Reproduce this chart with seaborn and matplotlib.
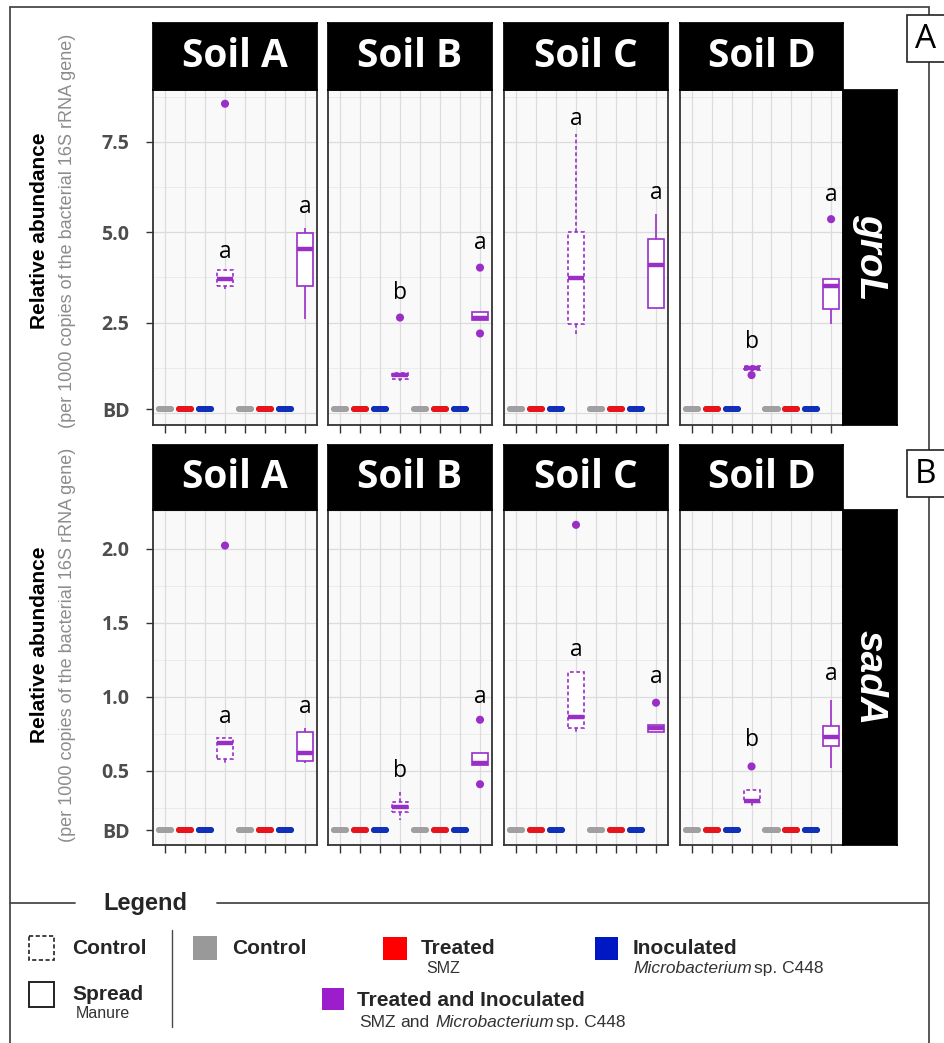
import numpy as np
import pandas as pd
import matplotlib
matplotlib.use("Agg")
import matplotlib.pyplot as plt
import seaborn as sns
from matplotlib.patches import Rectangle

sns.set_theme(style="white")
plt.rcParams['font.family'] = ['Open Sans', 'DejaVu Sans']

W, H = 944, 1043

# ---------------- data ----------------
soils = ["Soil A", "Soil B", "Soil C", "Soil D"]
genes = ["groL", "sadA"]
treatments = ["Control", "Treated", "Inoculated", "Treated and Inoculated"]
manures = ["Control", "Spread"]
BD = 0.1  # below detection plotted value

# replicate values (Treated and Inoculated), one list per soil
groL_control_vals = [[3.42, 3.52, 3.70, 3.95, 3.95],
                     [0.90, 0.93, 1.06, 1.10, 1.12],
                     [2.14, 2.45, 3.74, 5.00, 7.70],
                     [1.16, 1.20, 1.25, 1.30, 1.32]]
groL_control_out = [[8.55], [2.64], [], [1.05]]
groL_spread_vals = [[2.60, 3.52, 4.53, 4.97, 5.11],
                    [2.58, 2.58, 2.64, 2.78, 2.78],
                    [2.91, 2.91, 4.09, 4.81, 5.49],
                    [2.47, 2.88, 3.52, 3.70, 3.70]]
groL_spread_out = [[], [4.02, 2.20], [], [5.36]]

sadA_control_vals = [[0.54, 0.577, 0.685, 0.725, 0.725],
                     [0.17, 0.22, 0.255, 0.29, 0.36],
                     [0.76, 0.79, 0.865, 1.17, 1.17],
                     [0.255, 0.29, 0.30, 0.37, 0.37]]
sadA_control_out = [[2.02], [], [2.16], [0.53]]
sadA_spread_vals = [[0.555, 0.57, 0.62, 0.765, 0.79],
                    [0.54, 0.54, 0.555, 0.62, 0.62],
                    [0.76, 0.76, 0.79, 0.81, 0.81],
                    [0.52, 0.665, 0.73, 0.80, 0.98]]
sadA_spread_out = [[], [0.845, 0.41], [0.96], []]

# significance letters (control, spread) per soil, and their heights
groL_letters = [["a", "a"], ["b", "a"], ["a", "a"], ["b", "a"]]
groL_letter_y = [[4.29, 5.52], [3.16, 4.53], [7.97, 5.91], [1.81, 5.85]]
sadA_letters = [["a", "a"], ["b", "a"], ["a", "a"], ["b", "a"]]
sadA_letter_y = [[0.825, 0.89], [0.46, 0.96], [1.275, 1.09], [0.67, 1.11]]

box_vals = {"groL": [groL_control_vals, groL_spread_vals],
            "sadA": [sadA_control_vals, sadA_spread_vals]}
box_out = {"groL": [groL_control_out, groL_spread_out],
           "sadA": [sadA_control_out, sadA_spread_out]}
letters = {"groL": groL_letters, "sadA": sadA_letters}
letter_y = {"groL": groL_letter_y, "sadA": sadA_letter_y}

# ---------------- tidy tables ----------------
rows, orows = [], []
for gene in genes:
    for si, soil in enumerate(soils):
        for mi, man in enumerate(manures):
            for ti, tr in enumerate(treatments):
                pos = mi * 4 + ti + 1
                if tr == "Treated and Inoculated":
                    vals = box_vals[gene][mi][si]
                    for o in box_out[gene][mi][si]:
                        orows.append(dict(gene=gene, soil=soil, manure=man, treatment=tr, pos=pos, value=o))
                else:
                    vals = [BD, BD, BD]
                for v in vals:
                    rows.append(dict(gene=gene, soil=soil, manure=man, treatment=tr, pos=pos, value=v))
df = pd.DataFrame(rows)
dfo = pd.DataFrame(orows)

palette = {"Control": "#A0A0A0", "Treated": "#E8141C",
           "Inoculated": "#1030B8", "Treated and Inoculated": "#9A2FC8"}
purple = palette["Treated and Inoculated"]

# ---------------- figure ----------------
fig = plt.figure(figsize=(W / 100, H / 100), dpi=100)
fig.patch.set_facecolor("white")


def rect(x0, y0, x1, y1):
    return [x0 / W, 1 - y1 / H, (x1 - x0) / W, (y1 - y0) / H]


ov = fig.add_axes([0, 0, 1, 1])
ov.set_xlim(0, W)
ov.set_ylim(H, 0)
ov.axis("off")
ov.patch.set_alpha(0)

panel_x = [(153, 317), (328, 492), (504, 668), (680, 843)]
rows_y = {"groL": dict(strip=(23, 90), panel=(90, 425), ylim=(-0.33, 8.93),
                       ticks=[BD, 2.5, 5.0, 7.5], labels=["BD", "2.5", "5.0", "7.5"],
                       grid=np.arange(0, 9.0, 1.25), major=2.5, lab_c=231),
          "sadA": dict(strip=(445, 510), panel=(510, 845), ylim=(0.0, 2.26),
                       ticks=[BD, 0.5, 1.0, 1.5, 2.0], labels=["BD", "0.5", "1.0", "1.5", "2.0"],
                       grid=np.arange(0, 2.3, 0.25), major=0.5, lab_c=645)}

for gene in genes:
    R = rows_y[gene]
    py0, py1 = R["panel"]
    sy0, sy1 = R["strip"]
    for si, soil in enumerate(soils):
        x0, x1 = panel_x[si]
        ax = fig.add_axes(rect(x0, py0, x1, py1))
        ax.set_facecolor("#F9F9F9")
        sub = df[(df.gene == gene) & (df.soil == soil)]
        # below-detection groups
        bd = sub[sub.treatment != "Treated and Inoculated"]
        sns.boxplot(data=bd, x="pos", y="value", hue="treatment", palette=palette,
                    native_scale=True, dodge=False, fill=False, width=0.62,
                    linewidth=4.0, legend=False, showcaps=False, whis=(0, 100),
                    boxprops=dict(solid_capstyle="round"),
                    medianprops=dict(solid_capstyle="round"), ax=ax)
        for mi, man in enumerate(manures):
            s2 = sub[(sub.treatment == "Treated and Inoculated") & (sub.manure == man)]
            ls = (0, (2.2, 1.6)) if man == "Control" else "-"
            sns.boxplot(data=s2, x="pos", y="value", native_scale=True, color="white",
                        linecolor=purple, fill=True, width=0.8, linewidth=1.2,
                        whis=(0, 100), showfliers=False, showcaps=False,
                        boxprops=dict(linestyle=ls), whiskerprops=dict(linestyle=ls),
                        medianprops=dict(linewidth=3.2, color=purple), ax=ax)
            o2 = dfo[(dfo.gene == gene) & (dfo.soil == soil) & (dfo.manure == man)]
            if len(o2):
                sns.scatterplot(data=o2, x="pos", y="value", color=purple, s=34,
                                edgecolor="none", zorder=5, legend=False, ax=ax)
            pos = s2["pos"].iloc[0]
            ax.text(pos, letter_y[gene][si][mi], letters[gene][si][mi], ha="center",
                    va="baseline", fontsize=16.5, color="black", zorder=6)
        ax.set_xlim(0.4, 8.6)
        ax.set_ylim(*R["ylim"])
        for g in R["grid"]:
            major = abs((g / R["major"]) - round(g / R["major"])) < 1e-6
            ax.axhline(g, color="#DCDCDC" if major else "#EAEAEA",
                       lw=0.9 if major else 0.6, zorder=0)
        ax.set_xticks(range(1, 9))
        ax.set_xticklabels([])
        ax.grid(axis="x", color="#DCDCDC", lw=0.9, zorder=0)
        ax.set_axisbelow(True)
        ax.tick_params(axis="x", length=6, width=1.0, color="#333333", bottom=True)
        if si == 0:
            ax.set_yticks(R["ticks"])
            ax.set_yticklabels(R["labels"], fontsize=14, fontweight="bold", color="#4D4D4D")
            ax.tick_params(axis="y", length=5, width=1.0, color="#333333", left=True, pad=12)
        else:
            ax.set_yticks([])
        ax.set_xlabel("")
        ax.set_ylabel("")
        for sp in ax.spines.values():
            sp.set_color("#333333")
            sp.set_linewidth(1.3)
        # top strip
        st = fig.add_axes(rect(x0, sy0, x1, sy1))
        st.set_facecolor("black")
        st.set_xticks([]); st.set_yticks([])
        for sp in st.spines.values():
            sp.set_color("black")
        st.text(0.5, 0.5, soil, color="white", fontsize=28, fontweight="bold",
                ha="center", va="center", transform=st.transAxes)
    # right strip
    rs = fig.add_axes(rect(843, py0, 897, py1))
    rs.set_facecolor("black")
    rs.set_xticks([]); rs.set_yticks([])
    for sp in rs.spines.values():
        sp.set_color("black")
    rs.text(0.5, 0.5, gene, color="white", fontsize=28, fontweight="bold",
            style="italic", rotation=-90, ha="center", va="center",
            transform=rs.transAxes, family=["Liberation Sans", "DejaVu Sans"])
    # y labels
    fig.text(40 / W, 1 - R["lab_c"] / H, "Relative abundance", rotation=90,
             ha="center", va="center", fontsize=15, fontweight="bold",
             family=["Liberation Sans"], color="black")
    fig.text(68 / W, 1 - R["lab_c"] / H,
             "(per 1000 copies of the bacterial 16S rRNA gene)", rotation=90,
             ha="center", va="center", fontsize=13, family=["Liberation Sans"],
             color="#8C8C8C")

# ---------------- frame and panel tags ----------------
fc = "#4A4A4A"
ov.plot([10, 929], [7, 7], color=fc, lw=1.3)
ov.plot([10, 10], [7, H], color=fc, lw=1.3)
ov.plot([929, 929], [7, H], color=fc, lw=1.3)
for tag, (ty0, ty1) in [("A", (15, 62)), ("B", (450, 497))]:
    ov.add_patch(Rectangle((907, ty0), 60, ty1 - ty0, facecolor="white",
                           edgecolor="#222222", lw=1.2, zorder=3))
    ov.text(926, (ty0 + ty1) / 2 + 1, tag, ha="center", va="center", fontsize=24,
            color="black", zorder=4)

# ---------------- legend ----------------
ov.plot([10, 75], [903, 903], color=fc, lw=1.3)
ov.plot([217, 929], [903, 903], color=fc, lw=1.3)
LF = ["Liberation Sans"]
ov.text(103, 910, "Legend", fontsize=17, fontweight="bold", family=LF, va="baseline")
ov.add_patch(Rectangle((29, 936), 25, 24, fill=False, ls=(0, (2.5, 1.5)), lw=1.2, ec="#222222"))
ov.add_patch(Rectangle((29, 982), 25, 25, fill=False, lw=1.4, ec="#222222"))
ov.text(72, 954, "Control", fontsize=15, fontweight="bold", family=LF, va="baseline")
ov.text(72, 1000, "Spread", fontsize=15, fontweight="bold", family=LF, va="baseline")
ov.text(76, 1018, "Manure", fontsize=11.5, family=LF, va="baseline", color="#333333")
ov.plot([172, 172], [930, 1027], color=fc, lw=1.0)

leg_sq = {"Control": (193, 936, 24, 24), "Treated": (383, 937, 24, 23),
          "Inoculated": (595, 937, 23, 23), "Treated and Inoculated": (322, 988, 22, 22)}
leg_col = {"Control": "#999999", "Treated": "#FF0000", "Inoculated": "#0018C4",
           "Treated and Inoculated": "#9B1DCB"}
for tr in treatments:
    x, y, w, h = leg_sq[tr]
    ov.add_patch(Rectangle((x, y), w, h, facecolor=leg_col[tr], edgecolor="none"))
ov.text(232, 954, "Control", fontsize=15, fontweight="bold", family=LF, va="baseline")
ov.text(421, 954, "Treated", fontsize=15, fontweight="bold", family=LF, va="baseline")
ov.text(633, 954, "Inoculated", fontsize=15, fontweight="bold", family=LF, va="baseline")
ov.text(357, 1006, "Treated and Inoculated", fontsize=15, fontweight="bold", family=LF, va="baseline")
ov.text(426, 973, "SMZ", fontsize=11.5, family=LF, va="baseline", color="#333333")

renderer = fig.canvas.get_renderer()


def rich(x, y, parts, size):
    for txt, style, gap in parts:
        t = ov.text(x, y, txt, fontsize=size, style=style, family=LF, va="baseline",
                    color="#333333")
        bb = t.get_window_extent(renderer=renderer)
        x += bb.width + gap


rich(633, 973, [("Microbacterium", "italic", 2), ("sp. C448", "normal", 0)], 12.5)
rich(359, 1027, [("SMZ", "normal", 5), ("and", "normal", 6),
                 ("Microbacterium", "italic", 2), ("sp. C448", "normal", 0)], 12.5)

fig.savefig("out.png", dpi=100)
